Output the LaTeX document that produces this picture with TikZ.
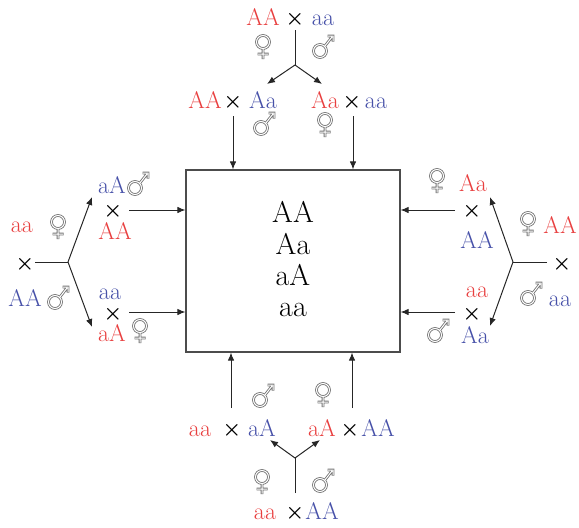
\documentclass[tikz,border=0pt]{standalone}
\usetikzlibrary{arrows.meta}
\definecolor{myred}{RGB}{232,62,62}
\definecolor{myblue}{RGB}{70,80,168}
\definecolor{symgray}{RGB}{115,115,115}
\begin{document}
\begin{tikzpicture}[x=1pt,y=-1pt,
  lbl/.style={inner sep=0pt,anchor=base,font=\fontsize{24}{28}\selectfont},
  rd/.style={lbl,text=myred},
  bl/.style={lbl,text=myblue},
  xx/.style={inner sep=0pt,anchor=base,text=black,text height=8pt,text depth=0pt,font=\fontsize{20}{24}\selectfont\boldmath},
  gen/.style={inner sep=0pt,anchor=base,font=\fontsize{30}{34}\selectfont},
  arr/.style={-{Latex[length=8pt,width=6.5pt]},line width=1pt,draw=black!85},
  ln/.style={line width=1pt,draw=black!85},
  symo/.style={draw=symgray,line width=2.7pt},
  symi/.style={draw=white,line width=1.0pt},
  fem/.pic={
    \draw[symo] (0,1.5) -- (0,12) (-5.5,7) -- (5.5,7) (0,-5) circle[radius=6.5];
    \draw[symi] (0,2) -- (0,11.5) (-5,7) -- (5,7) (0,-5) circle[radius=6.5];},
  mal/.pic={
    \draw[symo] (1.6,-0.6) -- (9,-10) (4.5,-11) -- (10,-11) -- (10,-5.5) (-3,4) circle[radius=6.5];
    \draw[symi] (2,-1.1) -- (9,-10) (5,-11) -- (10,-11) -- (10,-6) (-3,4) circle[radius=6.5];}
]
\useasboundingbox (0,0) rectangle (579,528);

% central box
\node[draw=black!70,line width=1.1pt,minimum width=214pt,minimum height=182pt,inner sep=0pt] (box) at (293,261) {};
\node[gen] (g1) at (293,222) {AA};
\node[gen] (g2) at (293,254) {Aa};
\node[gen] (g3) at (293,285) {aA};
\node[gen] (g4) at (293,316) {aa};

% ---------- top ----------
\node[rd] (t0a) at (263,25) {AA};
\node[xx] (t0x) at (295,24) {$\times$};
\node[bl] (t0b) at (323,25) {aa};
\pic at (263,47) {fem};
\pic at (323,47) {mal};
\coordinate (tTop) at (295,30);
\coordinate (tB) at (295,65);
\coordinate (tL) at (267,84);
\coordinate (tR) at (322,84);
\draw[ln] (tTop) -- (tB);
\draw[arr] (tB) -- (tL);
\draw[arr] (tB) -- (tR);

\node[rd] (t1a) at (205,108) {AA};
\node[xx] (t1x) at (233,107) {$\times$};
\node[bl] (t1b) at (263,108) {Aa};
\pic at (264,124) {mal};
\node[rd] (t2a) at (325,108) {Aa};
\node[xx] (t2x) at (352,107) {$\times$};
\node[bl] (t2b) at (376,108) {aa};
\pic at (325,125) {fem};
\coordinate (t1s) at (233,116);
\coordinate (t2s) at (353,116);
\draw[arr] (t1s) -- (t1s |- box.north);
\draw[arr] (t2s) -- (t2s |- box.north);

% ---------- left ----------
\node[rd] (l0a) at (22,232) {aa};
\pic at (58,227) {fem};
\node[xx] (l0x) at (25,269) {$\times$};
\node[bl] (l0b) at (25,306) {AA};
\pic at (58,298) {mal};
\coordinate (lS) at (35,262);
\coordinate (lB) at (68,262);
\coordinate (lU) at (92,197);
\coordinate (lD) at (92,327);
\draw[ln] (lS) -- (lB);
\draw[arr] (lB) -- (lU);
\draw[arr] (lB) -- (lD);

\node[bl] (l1a) at (112,193) {aA};
\pic at (138,184) {mal};
\node[xx] (l1x) at (113,216) {$\times$};
\node[rd] (l1b) at (115,239) {AA};
\node[bl] (l2a) at (110,299) {aa};
\node[xx] (l2x) at (113,319) {$\times$};
\node[rd] (l2b) at (112,341) {aA};
\pic at (140,331) {fem};
\coordinate (l1s) at (129,210);
\coordinate (l2s) at (129,312);
\draw[arr] (l1s) -- (l1s -| box.west);
\draw[arr] (l2s) -- (l2s -| box.west);

% ---------- right ----------
\node[rd] (r0a) at (560,233) {AA};
\pic at (528,224) {fem};
\node[xx] (r0x) at (562,269) {$\times$};
\node[bl] (r0b) at (560,306) {aa};
\pic at (531,294) {mal};
\coordinate (rS) at (547,262);
\coordinate (rB) at (513,262);
\coordinate (rU) at (490,197);
\coordinate (rD) at (490,326);
\draw[ln] (rS) -- (rB);
\draw[arr] (rB) -- (rU);
\draw[arr] (rB) -- (rD);

\pic at (437,181) {fem};
\node[rd] (r1a) at (473,191) {Aa};
\node[xx] (r1x) at (472,216) {$\times$};
\node[bl] (r1b) at (477,248) {AA};
\node[rd] (r2a) at (477,297) {aa};
\node[xx] (r2x) at (472,319) {$\times$};
\pic at (438,331) {mal};
\node[bl] (r2b) at (475,343) {Aa};
\coordinate (r1s) at (455,210);
\coordinate (r2s) at (455,312);
\draw[arr] (r1s) -- (r1s -| box.east);
\draw[arr] (r2s) -- (r2s -| box.east);

% ---------- bottom ----------
\node[rd] (b1a) at (200,436) {aa};
\node[xx] (b1x) at (232,435) {$\times$};
\node[bl] (b1b) at (262,436) {aA};
\pic at (263,396) {mal};
\node[rd] (b2a) at (322,436) {aA};
\node[xx] (b2x) at (350,435) {$\times$};
\node[bl] (b2b) at (378,436) {AA};
\pic at (323,395) {fem};
\coordinate (b1s) at (231,408);
\coordinate (b2s) at (352,408);
\draw[arr] (b1s) -- (b1s |- box.south);
\draw[arr] (b2s) -- (b2s |- box.south);

\node[rd] (b0a) at (265,519) {aa};
\node[xx] (b0x) at (295,518) {$\times$};
\node[bl] (b0b) at (322,519) {AA};
\pic at (262,482) {fem};
\pic at (323,481) {mal};
\coordinate (bBot) at (295,493);
\coordinate (bB) at (295,458);
\coordinate (bL) at (270,440);
\coordinate (bR) at (320,440);
\draw[ln] (bBot) -- (bB);
\draw[arr] (bB) -- (bL);
\draw[arr] (bB) -- (bR);
\end{tikzpicture}
\end{document}
